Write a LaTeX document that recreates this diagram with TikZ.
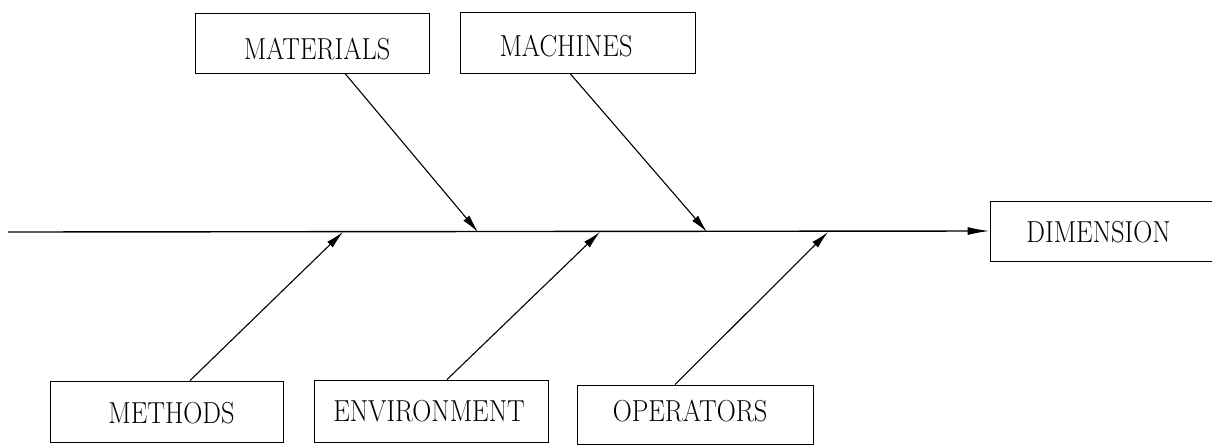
\documentclass[tikz,border=0pt]{standalone}
\usepackage{graphicx}
\usetikzlibrary{arrows.meta}

% cause label: upright caps, slightly tall
\newcommand{\causetext}[1]{\fontsize{26.4pt}{30pt}\selectfont\scalebox{1}[1.15]{#1}}

\begin{document}
\begin{tikzpicture}[x=1pt, y=-1pt,
  causebox/.style={draw, line width=0.9pt, inner sep=0pt},
  causelabel/.style={inner sep=0pt, anchor=center},
  branch/.style={line width=1.1pt, -{Latex[length=18pt, width=8pt]}},
  spine/.style={line width=1.4pt, -{Latex[length=22pt, width=8pt]}}]
  \useasboundingbox (0,0) rectangle (1212,445);
  \clip (0,0) rectangle (1212,445);

  % boxes
  \node[causebox, minimum width=234pt, minimum height=60pt] (materials) at (312,43) {};
  \node[causebox, minimum width=235pt, minimum height=61pt] (machines) at (577.5,42.5) {};
  \node[causebox, minimum width=240pt, minimum height=60pt] (dimension) at (1110,231) {};
  \node[causebox, minimum width=233pt, minimum height=61pt] (methods) at (166.5,411.5) {};
  \node[causebox, minimum width=234pt, minimum height=62pt] (environment) at (431,411) {};
  \node[causebox, minimum width=236pt, minimum height=59pt] (operators) at (695,414.5) {};

  % labels
  \node[causelabel] (materials-t) at (317,49) {\causetext{MATERIALS}};
  \node[causelabel] (machines-t) at (566,46) {\causetext{MACHINES}};
  \node[causelabel] (dimension-t) at (1098.5,232) {\causetext{DIMENSION}};
  \node[causelabel] (methods-t) at (171.5,413.5) {\causetext{METHODS}};
  \node[causelabel] (environment-t) at (429,411) {\causetext{ENVIRONMENT}};
  \node[causelabel] (operators-t) at (690,411.5) {\causetext{OPERATORS}};

  % spine and the points where the causes meet it
  \coordinate (spinestart) at (8,232);
  \coordinate (j1) at (478,232);
  \coordinate (j2) at (707,232);
  \coordinate (j3) at (343,232);
  \coordinate (j4) at (600,232);
  \coordinate (j5) at (828,232);

  \draw[spine] (spinestart) -- (dimension.west);

  % cause branches
  \draw[branch] ([xshift=33pt]materials.south) -- (j1);
  \draw[branch] ([xshift=-7.5pt]machines.south) -- (j2);
  \draw[branch] ([xshift=23.5pt]methods.north) -- (j3);
  \draw[branch] ([xshift=16pt]environment.north) -- (j4);
  \draw[branch] ([xshift=-20pt]operators.north) -- (j5);
\end{tikzpicture}
\end{document}
